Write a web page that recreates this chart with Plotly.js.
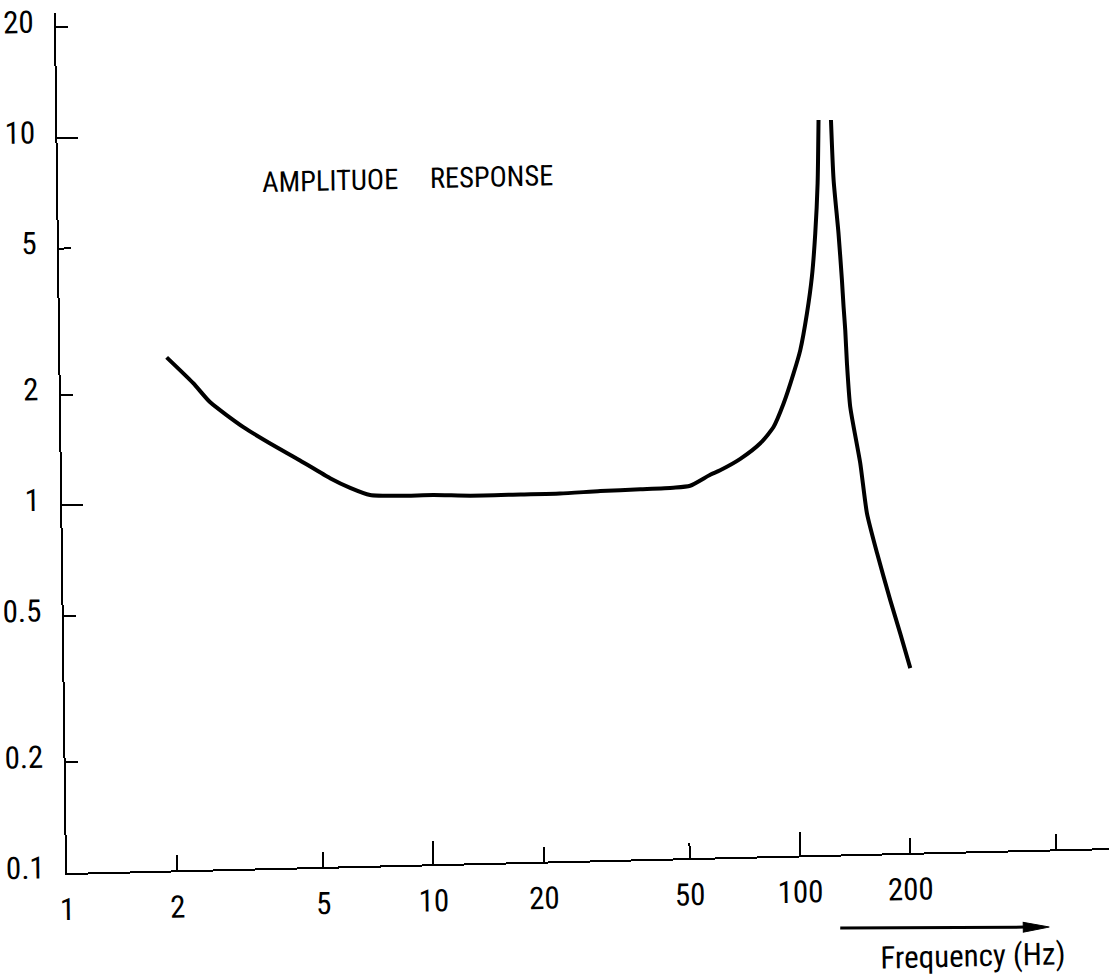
<!DOCTYPE html>
<html>
<head>
<meta charset="utf-8">
<script src="https://cdn.plot.ly/plotly-3.0.1.min.js"></script>
<style>
  html, body { margin: 0; padding: 0; overflow: hidden; background: #fff; }
  /* slight skew of the whole sheet, pivoting on the axes origin */
  #chart {
    width: 1120px; height: 1010px;
    transform-origin: 67px 873px;
    transform: matrix(1, -0.0239, 0.013, 1, 0, 0);
  }
</style>
</head>
<body>
<div id="chart"></div>
<script>
// Amplitude ratio versus frequency (Hz), log-log.
// Branch below the resonance (rises toward the peak near 120 Hz)
const freqBelow = [1.95, 2.30, 2.55, 3.14, 3.71, 4.47, 5.39, 6.11, 6.92, 8.36, 10.3, 13.0, 17.8, 22.8, 29.4, 37.8, 46.5, 51.7, 58.7, 62.5, 71.0, 80.6, 87.7, 93.6, 99.9, 104.4, 109.2, 113.0, 115.8, 118.0, 119.3];
const ampBelow  = [2.49, 2.11, 1.87, 1.59, 1.43, 1.28, 1.14, 1.07, 1.02, 1.01, 1.01, 1.00, 1.00, 1.00, 1.01, 1.015, 1.02, 1.03, 1.10, 1.13, 1.21, 1.33, 1.47, 1.70, 2.05, 2.37, 2.98, 3.75, 4.91, 6.72, 9.99];
// Branch above the resonance (falls off toward 200 Hz)
const freqAbove = [129.0, 130.5, 134.0, 136.4, 137.5, 138.7, 139.8, 142.2, 150.7, 156.6, 166.3, 179.9, 191.1, 203.0];
const ampAbove  = [9.97, 6.85, 4.90, 3.65, 3.09, 2.67, 2.17, 1.65, 1.16, 0.844, 0.657, 0.489, 0.396, 0.318];

// Axis ticks
const xTickVals = [1, 2, 5, 10, 20, 50, 100, 200, 500];
const xTickText = ['1', '2', '5', '10', '20', '50', '100', '200', ''];
const xDecadeTicks = [10, 100];
const yTickVals = [0.1, 0.2, 0.5, 1, 2, 5, 10, 20];
const yTickText = ['0.1', '0.2', '0.5', '1', '2', '5', '10', '20'];
const yDecadeTicks = [1, 10];

// wide em-space gap between the two words of the caption
const plotTitle = 'AMPLITUOE\u2003 RESPONSE';
const xLabel = 'Frequency (Hz)';

const FONT = '"Roboto Condensed", "Liberation Sans Narrow", "DejaVu Sans Condensed", sans-serif';
const INK = '#000';

const xRange = [0, 2.8677];
const yRange = [-1, 1.3401];

const curveLine = { color: INK, width: 4, shape: 'spline', smoothing: 0.6 };

// the second branch sits on the overlay axes (same ranges), which carry the decade marks
const traces = [
  { x: freqBelow, y: ampBelow, type: 'scatter', mode: 'lines', line: curveLine, hoverinfo: 'skip', showlegend: false },
  { x: freqAbove, y: ampAbove, xaxis: 'x2', yaxis: 'y2', type: 'scatter', mode: 'lines', line: curveLine, hoverinfo: 'skip', showlegend: false }
];

const baseAxis = {
  type: 'log', showgrid: false, zeroline: false,
  ticks: 'inside', tickwidth: 2, tickcolor: INK,
  tickmode: 'array', fixedrange: true
};

const layout = {
  width: 1120, height: 1010,
  margin: { l: 67, r: 2, t: 13, b: 137 },
  paper_bgcolor: '#fff', plot_bgcolor: '#fff',
  showlegend: false,
  font: { family: FONT, color: INK },
  xaxis: Object.assign({}, baseAxis, {
    range: xRange, showline: true, linewidth: 2, linecolor: INK,
    ticklen: 15, tickvals: xTickVals, ticktext: xTickText,
    tickfont: { family: FONT, size: 31, color: INK },
    ticklabelstandoff: 8
  }),
  yaxis: Object.assign({}, baseAxis, {
    range: yRange, showline: true, linewidth: 2, linecolor: INK,
    ticklen: 12, tickvals: yTickVals, ticktext: yTickText,
    tickfont: { family: FONT, size: 31, color: INK },
    ticklabelstandoff: 14, ticklabelshift: -6
  }),
  // longer marks at the decades
  xaxis2: Object.assign({}, baseAxis, {
    overlaying: 'x', anchor: 'y', side: 'bottom', range: xRange,
    showline: false, ticklen: 23, tickvals: xDecadeTicks, showticklabels: false
  }),
  yaxis2: Object.assign({}, baseAxis, {
    overlaying: 'y', anchor: 'x', side: 'left', range: yRange,
    showline: false, ticklen: 21, tickvals: yDecadeTicks, showticklabels: false
  }),
  annotations: [
    {
      text: plotTitle, xref: 'paper', yref: 'paper',
      x: 0.192, y: 0.776, xanchor: 'left', yanchor: 'bottom',
      showarrow: false, font: { family: FONT, size: 28.5, color: INK }
    },
    {
      text: xLabel, xref: 'paper', yref: 'paper',
      x: 0.8605, y: -0.1216, xanchor: 'center', yanchor: 'middle',
      showarrow: false, font: { family: FONT, size: 31, color: INK }
    }
  ],
  shapes: [
    // arrow under the frequency scale
    { type: 'line', xref: 'paper', yref: 'paper',
      x0: 0.7348, y0: -0.0855, x1: 0.910, y1: -0.0895,
      line: { color: INK, width: 3 } },
    { type: 'path', xref: 'paper', yref: 'paper',
      path: 'M 0.9337 -0.0901 L 0.9089 -0.0838 L 0.9089 -0.0954 Z',
      fillcolor: INK, line: { color: INK, width: 1 } }
  ]
};

Plotly.newPlot('chart', traces, layout, { staticPlot: true, displayModeBar: false });
</script>
</body>
</html>
